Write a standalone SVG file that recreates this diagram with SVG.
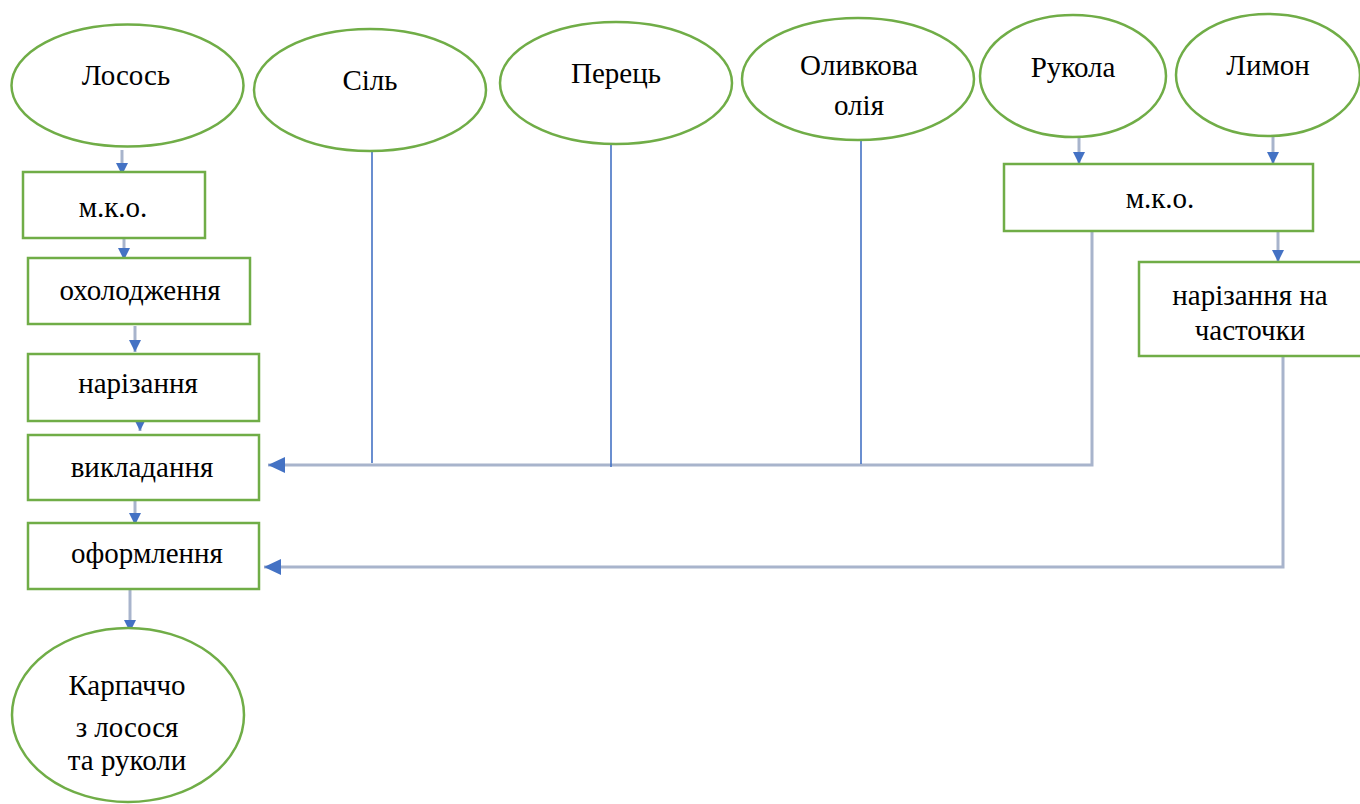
<svg xmlns="http://www.w3.org/2000/svg" width="1360" height="804" viewBox="0 0 1360 804" font-family="'Liberation Serif', 'Times New Roman', serif" font-size="29">
<style>
.n{fill:#fff;stroke:#70ad47;stroke-width:2.5}
text{font-family:'Liberation Serif','Times New Roman',serif;font-size:29px;fill:#000;text-anchor:middle}
.c{fill:none;stroke:#a8b4cc;stroke-width:3}
.b{fill:none;stroke:#4472c4;stroke-width:1.6}
</style>
<defs>
<marker id="av" markerUnits="userSpaceOnUse" markerWidth="14" markerHeight="14" refX="12" refY="6" orient="auto">
<path d="M0,0 L12,6 L0,12 Z" fill="#4472c4"/>
</marker>
<marker id="ah" markerUnits="userSpaceOnUse" markerWidth="18" markerHeight="18" refX="17" refY="8" orient="auto">
<path d="M0,0 L17,8 L0,16 Z" fill="#4472c4"/>
</marker>
</defs>
<g id="connectors">
<path class="c" d="M122,150 V175" marker-end="url(#av)"/>
<path class="c" d="M124,238 V260" marker-end="url(#av)"/>
<path class="c" d="M135,326 V352" marker-end="url(#av)"/>
<path class="c" d="M140,423 V431" marker-end="url(#av)"/>
<path class="c" d="M135,500 V525" marker-end="url(#av)"/>
<path class="c" d="M130,590 V632" marker-end="url(#av)"/>
<path class="c" d="M1079,137 V164" marker-end="url(#av)"/>
<path class="c" d="M1273,136 V164" marker-end="url(#av)"/>
<path class="c" d="M1278,231 V262" marker-end="url(#av)"/>
<path class="c" d="M1092,229 V465 H268" marker-end="url(#ah)"/>
<path class="c" d="M1283,356 V567 H264" marker-end="url(#ah)"/>
<path class="b" d="M372,151 V463"/>
<path class="b" d="M611,145 V467"/>
<path class="b" d="M861,141 V464"/>
</g>
<g id="n-losos"><ellipse class="n" cx="127.5" cy="85.5" rx="116" ry="61"/><text x="126" y="85">Лосось</text></g>
<g id="n-sil"><ellipse class="n" cx="370" cy="90" rx="116" ry="61"/><text x="370" y="90">Сіль</text></g>
<g id="n-perets"><ellipse class="n" cx="616" cy="83" rx="116" ry="61"/><text x="616" y="83">Перець</text></g>
<g id="n-oliia"><ellipse class="n" cx="858" cy="79" rx="116" ry="61"/><text x="859" y="75">Оливкова</text><text x="859" y="115">олія</text></g>
<g id="n-rukola"><ellipse class="n" cx="1073" cy="76" rx="93" ry="61"/><text x="1073" y="77">Рукола</text></g>
<g id="n-lymon"><ellipse class="n" cx="1268" cy="75" rx="92" ry="61"/><text x="1268" y="75">Лимон</text></g>
<g id="n-mko1"><rect class="n" x="23" y="172" width="182" height="66"/><text x="113" y="217">м.к.о.</text></g>
<g id="n-okholodzhennia"><rect class="n" x="28" y="258" width="222" height="66"/><text x="140" y="300">охолодження</text></g>
<g id="n-narizannia"><rect class="n" x="28" y="354" width="231" height="67"/><text x="138" y="393">нарізання</text></g>
<g id="n-vykladannia"><rect class="n" x="28" y="435" width="231" height="65"/><text x="142" y="477">викладання</text></g>
<g id="n-oformlennia"><rect class="n" x="28" y="523" width="231" height="66"/><text x="147" y="563">оформлення</text></g>
<g id="n-mko2"><rect class="n" x="1004" y="164" width="309" height="67"/><text x="1160" y="208">м.к.о.</text></g>
<g id="n-chastochky"><rect class="n" x="1139" y="262" width="230" height="94"/><text x="1250" y="305">нарізання на</text><text x="1250" y="340">часточки</text></g>
<g id="n-karpachcho"><ellipse class="n" cx="128" cy="715" rx="116" ry="87"/><text x="127" y="695">Карпаччо</text><text x="127" y="737">з лосося</text><text x="127" y="770">та руколи</text></g>
</svg>
